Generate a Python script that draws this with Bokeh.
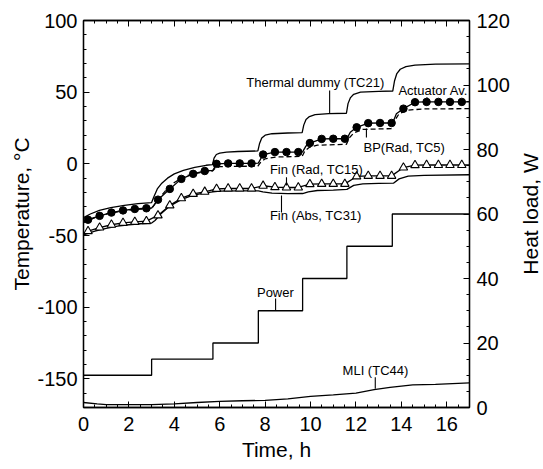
from bokeh.plotting import figure
from bokeh.layouts import row
from bokeh.models import (Range1d, LinearAxis, SingleIntervalTicker, CustomJSTickFormatter,
                          Title)
from bokeh.core.properties import value
from bokeh.embed import file_html
from bokeh.resources import INLINE

FONT = "Liberation Sans"

# ---------------- data ----------------
# Thermal dummy (TC21), deg C
td_t = [0, 0.3, 0.7, 1.2, 1.8, 2.4, 3.0, 3.1, 3.25, 3.45, 3.7, 4.0, 4.4, 4.9, 5.4, 5.68,
        5.75, 5.85, 6.0, 6.3, 6.8, 7.68, 7.75, 7.85, 8.0, 8.3, 9.0, 9.63, 9.7, 9.8, 9.95,
        10.2, 10.8, 11.58, 11.65, 11.75, 11.9, 12.2, 13.0, 13.62, 13.7, 13.8, 13.95, 14.2,
        14.6, 15.5, 17.0]
td_T = [-37.5, -35, -32.5, -30.5, -29, -27.8, -27, -23, -17.5, -13.5, -10, -7, -4.5, -2.5,
        -1, -0.5, 4, 6.5, 7.5, 8.2, 8.6, 9, 14, 18, 20, 21, 21.5, 21.8, 27, 31, 33, 34.3,
        35, 35.3, 42, 46, 48.5, 50, 50.6, 50.8, 58, 63, 66, 67.8, 68.8, 69.5, 69.8]

# Actuator Av. line and markers
act_line_t = [0, 0.2, 0.71, 1.23, 1.74, 2.26, 2.77, 3.0, 3.1, 3.28, 3.8, 4.31, 4.83, 5.34,
              5.7, 5.86, 6.37, 6.88, 7.4, 7.7, 7.91, 8.43, 8.94, 9.46, 9.65, 9.8, 9.97,
              10.49, 11.0, 11.51, 11.6, 11.75, 12.03, 12.54, 13.06, 13.57, 13.62, 13.78,
              14.09, 14.6, 15.11, 15.63, 16.14, 16.66, 17.0]
act_line_T = [-40.5, -39, -36.3, -34, -32.5, -31.5, -31, -30.8, -29, -25, -17.5, -10.5, -7,
              -5, -4.5, 0, 0.3, 0.3, 0.3, 0.5, 6.5, 8.2, 8.2, 8.2, 8.3, 12.5, 14.5, 17.4,
              17.5, 17.5, 17.6, 22, 25.5, 28.4, 28.5, 28.5, 28.6, 35, 38.5, 43, 43.2, 43.2,
              43.2, 43.2, 43.2]
mk_t = [0.2, 0.71, 1.23, 1.74, 2.26, 2.77, 3.28, 3.8, 4.31, 4.83, 5.34, 5.86, 6.37, 6.88,
        7.4, 7.91, 8.43, 8.94, 9.46, 9.97, 10.49, 11.0, 11.51, 12.03, 12.54, 13.06, 13.57,
        14.09, 14.6, 15.11, 15.63, 16.14, 16.66]
act_mk = [-39, -36.3, -34, -32.5, -31.5, -31, -25, -17.5, -10.5, -7, -5, 0, 0.3, 0.3, 0.3,
          6.5, 8.2, 8.2, 8.2, 14.5, 17.4, 17.5, 17.5, 25.5, 28.4, 28.5, 28.5, 38.5, 43,
          43.2, 43.2, 43.2, 43.2]

# BP (Rad, TC5), dashed
bp_t = [0, 0.5, 1, 1.5, 2, 2.5, 3.0, 3.1, 3.3, 3.6, 4.0, 4.5, 5.0, 5.68, 5.8, 6.0, 6.5,
        7.68, 7.8, 8.0, 8.5, 9.63, 9.75, 9.95, 10.3, 11.58, 11.7, 11.9, 12.3, 13.58, 13.7,
        13.9, 14.3, 15.0, 17.0]
bp_T = [-41, -37.5, -35, -33.5, -32.3, -31.6, -31.2, -29, -24.5, -19, -13, -8.5, -6.5, -5,
        -3, -2, -1.8, -1.6, 1, 3.5, 4.8, 5.2, 9, 11.5, 13, 13.6, 18, 21.5, 24, 24.6, 30,
        35, 37.5, 38.3, 38.5]

# Fin (Rad, TC15), open triangles (same sample times as markers)
fr_line_t = [0] + mk_t + [17.0]
fr_mk = [-47, -44.5, -42.5, -41.2, -40.5, -40, -36, -29, -24, -21, -19.5, -17.5, -17.2,
         -17.2, -17.2, -15.3, -16.3, -16.5, -16.5, -14.2, -14, -14, -14, -8.8, -8.4, -8.4,
         -8.4, -2.6, -0.9, -0.8, -0.8, -0.8, -0.8]
fr_line_T = [-48.5] + fr_mk + [-0.8]

# Fin (Abs, TC31)
fa_t = [0, 0.5, 1, 1.5, 2, 2.5, 3.0, 3.15, 3.4, 3.8, 4.3, 4.8, 5.3, 5.7, 6.0, 7.0, 7.7, 7.9,
        8.3, 9.0, 9.65, 9.9, 10.3, 11.0, 11.6, 11.9, 12.3, 13.0, 13.65, 13.9, 14.3, 15.0, 17.0]
fa_T = [-49.5, -47, -45, -43.5, -42.5, -41.8, -41.3, -39.5, -35, -29.5, -25, -22, -20.5,
        -19.5, -19, -18.8, -18.8, -19.5, -20.5, -20.8, -20.7, -19.5, -18.6, -18.4, -17.8,
        -15, -14, -13.7, -13.5, -10.5, -8.6, -8, -7.6]

# MLI (TC44)
mli_t = [0, 0.6, 1.0, 2.0, 3.0, 4.0, 5.0, 6.0, 7.0, 8.0, 9.0, 10.0, 11.0, 12.0, 12.8, 13.5,
         14.5, 15.5, 17.0]
mli_T = [-166.5, -167.5, -168, -168, -168, -167.5, -166.5, -165.7, -165.3, -165, -164,
         -162.3, -161.2, -160, -157.5, -156, -154.2, -153.8, -152.8]

# Power (heat load, W), step function
pw_t = [0, 3.0, 5.7, 7.7, 9.65, 11.6, 13.6, 17.0]
pw_W = [10, 15, 20, 30, 40, 50, 60, 60]

# annotations (data coordinates, left axis)
ann_text = ["Thermal dummy (TC21)", "Actuator Av.", "BP(Rad, TC5)", "Fin (Rad, TC15)",
            "Fin (Abs, TC31)", "Power", "MLI (TC44)"]
ann_x = [7.17, 13.87, 12.33, 8.21, 8.21, 7.64, 11.41]
ann_y = [57, 51.2, 11.6, -4, -36, -89.6, -144.2]
lead_x = [10.84, 15.13, 12.46, 8.94, 8.72, 8.46, 12.85]
lead_y0 = [51.2, 46.5, 24.6, -9.3, -22.1, -94, -148.9]
lead_y1 = [35.3, 43.0, 18.4, -15.1, -34, -102.3, -157]

x_title = "Time, h"
y_title = "Temperature, °C"
y2_title = "Heat load, W"

# ---------------- main figure ----------------
p = figure(width=512, height=469, x_range=Range1d(0, 17), y_range=Range1d(-170, 100),
           output_backend="svg", toolbar_location=None,
           min_border_left=83, min_border_right=41, min_border_top=20, min_border_bottom=62)
p.extra_y_ranges = {"w": Range1d(0, 120)}
p.xgrid.visible = False
p.ygrid.visible = False
p.outline_line_color = "black"
p.outline_line_width = 1.3
p.background_fill_color = "white"
p.border_fill_color = "white"

fmt = CustomJSTickFormatter(code="return tick.toFixed(0);")


def style(ax, label_size="20px"):
    ax.formatter = fmt
    ax.axis_line_color = "black"
    ax.axis_line_width = 1.3
    ax.major_tick_in = 6
    ax.major_tick_out = 0
    ax.minor_tick_in = 3
    ax.minor_tick_out = 0
    ax.major_tick_line_color = "black"
    ax.minor_tick_line_color = "black"
    ax.major_label_text_font = FONT
    ax.major_label_text_font_size = label_size
    ax.major_label_text_color = "black"
    ax.axis_label_text_font = FONT
    ax.axis_label_text_font_size = "21px"
    ax.axis_label_text_font_style = "normal"
    ax.axis_label_text_color = "black"


xa = p.xaxis[0]
xa.ticker = SingleIntervalTicker(interval=2, num_minor_ticks=4)
style(xa)
xa.major_label_standoff = 9

# x title as a panel title below the axis, nudged slightly left like the original
xt = Title(text=x_title, align="center", offset=-9, standoff=7, text_font=FONT,
           text_font_size="21px", text_font_style="normal", text_color="black",
           vertical_align="middle")
p.add_layout(xt, "below")

ya = p.yaxis[0]
ya.ticker = SingleIntervalTicker(interval=50, num_minor_ticks=5)
style(ya)
ya.axis_label = y_title
ya.major_label_standoff = 6
ya.axis_label_standoff = 1

ra = LinearAxis(y_range_name="w", ticker=SingleIntervalTicker(interval=20, num_minor_ticks=4))
style(ra)
ra.major_label_standoff = 7
p.add_layout(ra, "right")

ta = LinearAxis(ticker=SingleIntervalTicker(interval=2, num_minor_ticks=4))
style(ta, label_size="1px")
ta.major_label_text_color = None
ta.major_label_standoff = 0
p.add_layout(ta, "above")

LW = 1.3
p.line(td_t, td_T, line_color="black", line_width=LW)
p.line(bp_t, bp_T, line_color="black", line_width=LW, line_dash="5 3")
p.line(act_line_t, act_line_T, line_color="black", line_width=LW)
p.scatter(mk_t, act_mk, marker="circle", size=7.5, fill_color="black", line_color="black")
p.line(fa_t, fa_T, line_color="black", line_width=LW)
p.line(fr_line_t, fr_line_T, line_color="black", line_width=LW)
p.scatter(mk_t, fr_mk, marker="triangle", size=8.5, fill_color="white", line_color="black",
          line_width=1.1)
p.line(mli_t, mli_T, line_color="black", line_width=LW)
p.step(pw_t, pw_W, mode="after", line_color="black", line_width=LW, y_range_name="w")

p.segment(x0=lead_x, y0=lead_y0, x1=lead_x, y1=lead_y1, line_color="black", line_width=1.1)
p.text(x=ann_x, y=ann_y, text=ann_text, text_font=value(FONT), text_font_size="13px",
       text_baseline="middle", text_align="left", text_color="black")

# ---------------- narrow companion figure: right-hand title read bottom-to-top ----------
p2 = figure(width=31, height=469, x_range=Range1d(0, 1), y_range=Range1d(0, 120),
            output_backend="svg", toolbar_location=None, x_axis_location=None,
            min_border_left=29, min_border_right=0, min_border_top=20, min_border_bottom=62)
p2.xgrid.visible = False
p2.ygrid.visible = False
p2.outline_line_color = None
p2.background_fill_color = "white"
p2.border_fill_color = "white"
a2 = p2.yaxis[0]
a2.axis_label = y2_title
a2.axis_label_text_font = FONT
a2.axis_label_text_font_size = "21px"
a2.axis_label_text_font_style = "normal"
a2.axis_label_text_color = "black"
a2.axis_line_color = None
a2.major_tick_line_color = None
a2.minor_tick_line_color = None
a2.major_tick_in = 0
a2.major_tick_out = 0
a2.minor_tick_in = 0
a2.minor_tick_out = 0
a2.major_label_text_font_size = "1px"
a2.major_label_text_color = None
a2.major_label_standoff = 0
a2.axis_label_standoff = 0

layout = row(p, p2, spacing=0)
open("out.html", "w").write(file_html(layout, INLINE))
